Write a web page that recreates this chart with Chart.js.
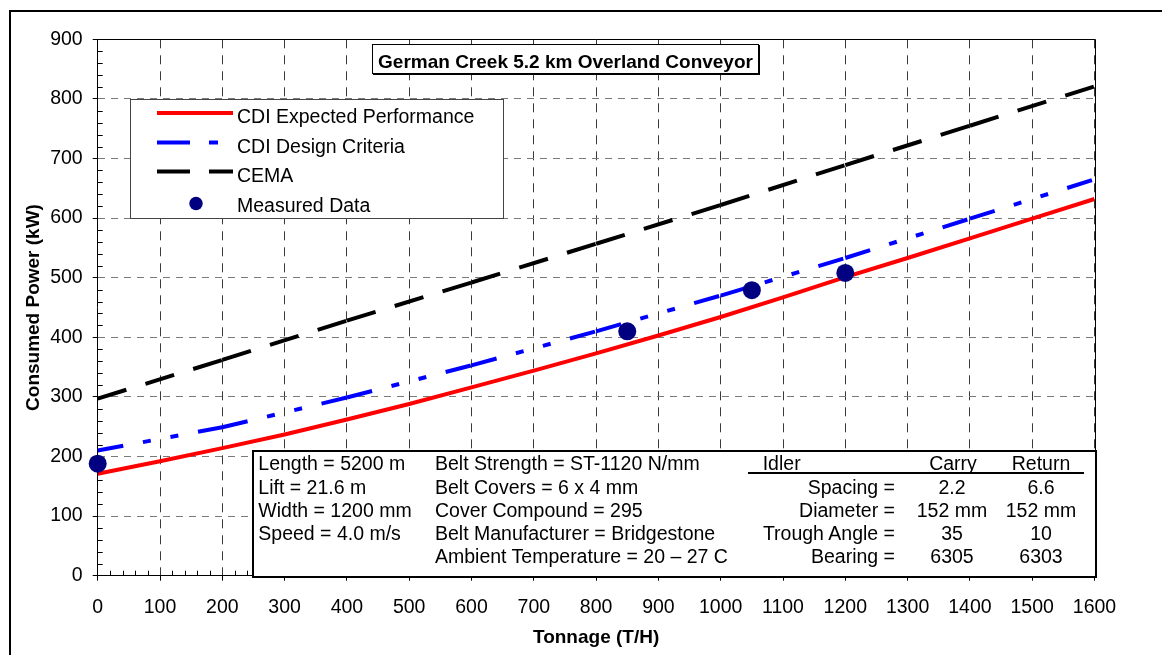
<!DOCTYPE html>
<html><head><meta charset="utf-8">
<script src="https://cdn.jsdelivr.net/npm/chart.js@4/dist/chart.umd.min.js"></script>
<style>
html,body{margin:0;padding:0;background:#fff;overflow:hidden;}
#wrap{position:relative;width:1162px;height:655px;overflow:hidden;font-family:"Liberation Sans",Arial,sans-serif;color:#000;}
#c{position:absolute;left:0;top:0;}
#frame{position:absolute;left:9px;top:10px;width:1300px;height:800px;border:2px solid #000;box-sizing:border-box;}
#overlay{position:absolute;left:0;top:0;width:1162px;height:655px;}
.t{position:absolute;white-space:pre;line-height:1;}
.box{position:absolute;background:#fff;box-sizing:border-box;}
</style></head><body>
<div id="wrap">
<div id="frame"></div>
<canvas id="c" width="1162" height="655"></canvas>
<div id="overlay"></div>
</div>
<script>
// ---- data ----
const expectedTonnage = [0,100,200,300,400,500,600,700,800,900,1000,1100,1200,1300,1400,1500,1600];
const expectedKW      = [171,192,214,237,262,288,316,344,373,403,434,467,501,533,566,599,632];
const designTonnage   = [0,200,400,600,800,1000,1200,1400,1600];
const designKW        = [210,249,299,353,410,470,533,599,665];
const cemaTonnage     = [0,200,400,600,800,1000,1200,1400,1600];
const cemaKW          = [297,362,428,492,557,622,689,755,821];
const measuredTonnage = [0,850,1050,1200];
const measuredKW      = [188,410,479,508];
const xTickValues = [0,100,200,300,400,500,600,700,800,900,1000,1100,1200,1300,1400,1500,1600];
const yTickValues = [0,100,200,300,400,500,600,700,800,900];
const seriesNames = ['CDI Expected Performance','CDI Design Criteria','CEMA','Measured Data'];
const chartTitle = 'German Creek 5.2 km Overland Conveyor';
const xTitle = 'Tonnage (T/H)';
const yTitle = 'Consumed Power (kW)';
const infoCol1 = ['Length = 5200 m','Lift = 21.6 m','Width = 1200 mm','Speed = 4.0 m/s'];
const infoCol2 = ['Belt Strength = ST-1120 N/mm','Belt Covers = 6 x 4 mm','Cover Compound = 295','Belt Manufacturer = Bridgestone','Ambient Temperature = 20 \u2013 27 C'];
const idlerHeader = ['Idler','Carry','Return'];
const idlerLabels = ['Spacing =','Diameter =','Trough Angle =','Bearing ='];
const idlerCarry  = ['2.2','152 mm','35','6305'];
const idlerReturn = ['6.6','152 mm','10','6303'];

// ---- styles ----
const FONT = '"Liberation Sans", Arial, sans-serif';
const FS = 19.5;
const pts = (xs, ys) => xs.map((x, i) => ({x: x, y: ys[i]}));
const designDashA = [26,20,8,20,8,20], designDashB = [26,20,8,20,8,20.0001];
const cemaDashA = [30,20], cemaDashB = [30,20.0001];

const colors = {expected:'#ff0000', design:'#0000ff', cema:'#000000', measured:'#000080'};

const minorPlugin = {
  id:'minorAndFrame',
  beforeDatasetsDraw(chart) {
    const ctx = chart.ctx, a = chart.chartArea;
    const xs = chart.scales.x, ys = chart.scales.y;
    ctx.save();
    ctx.strokeStyle = '#000'; ctx.lineWidth = 1;
    ctx.beginPath();
    for (let v = 20; v < 900; v += 20) {
      if (v % 100 === 0) continue;
      const p = Math.round(ys.getPixelForValue(v)) + 0.5;
      ctx.moveTo(a.left, p); ctx.lineTo(a.left + 5, p);
    }
    for (let v = 20; v < 1600; v += 20) {
      if (v % 100 === 0) continue;
      const p = Math.round(xs.getPixelForValue(v)) + 0.5;
      ctx.moveTo(p, a.bottom); ctx.lineTo(p, a.bottom - 5);
    }
    ctx.stroke();
    ctx.beginPath();
    const t = Math.round(a.top) + 0.5, r = Math.round(a.right) + 0.5;
    ctx.moveTo(a.left, t); ctx.lineTo(r, t); ctx.lineTo(r, a.bottom);
    ctx.stroke();
    ctx.restore();
  }
};

const datasets = [
  {label: seriesNames[0], data: pts(expectedTonnage, expectedKW), borderColor: colors.expected, borderWidth: 4, pointRadius: 0, order: 1, tension: 0},
  {label: seriesNames[1], data: pts(designTonnage, designKW), borderColor: colors.design, borderWidth: 4, pointRadius: 0, order: 2, tension: 0,
    segment: {borderDash: c => (c.p0DataIndex % 2 ? designDashB : designDashA)}},
  {label: seriesNames[2], data: pts(cemaTonnage, cemaKW), borderColor: colors.cema, borderWidth: 4, pointRadius: 0, order: 3, tension: 0,
    segment: {borderDash: c => (c.p0DataIndex % 2 ? cemaDashB : cemaDashA)}},
  {label: seriesNames[3], data: pts(measuredTonnage, measuredKW), showLine: false, pointRadius: 9, pointBackgroundColor: colors.measured,
    pointBorderColor: colors.measured, pointBorderWidth: 0, order: 0, clip: false}
];

const chart = new Chart(document.getElementById('c'), {
  type: 'line',
  data: {datasets: datasets},
  options: {
    responsive: false, animation: false, events: [],
    layout: {padding: {left: 0, top: 39.3, right: 67.5, bottom: 0}},
    plugins: {legend: {display: false}, tooltip: {enabled: false}, title: {display: false}},
    scales: {
      x: {
        type: 'linear', min: 0, max: 1600,
        afterFit: s => { s.height = 79.3; },
        afterBuildTicks: s => { s.ticks = xTickValues.map(v => ({value: v})); },
        ticks: {font: {family: FONT, size: FS}, color: '#000', padding: 15.3, maxRotation: 0, autoSkip: false, callback: v => String(v)},
        grid: {color: '#3a3a3a', lineWidth: 1, tickLength: 5, tickColor: '#000', tickBorderDash: []},
        border: {display: true, color: '#000', width: 1, dash: [9, 7]},
        title: {display: true, text: xTitle, color: '#000', font: {family: FONT, size: 19, weight: 'bold'}, padding: {top: 0, bottom: 6}}
      },
      y: {
        type: 'linear', min: 0, max: 900,
        afterFit: s => { s.width = 97.7; },
        afterBuildTicks: s => { s.ticks = yTickValues.map(v => ({value: v})); },
        ticks: {font: {family: FONT, size: FS}, color: '#000', padding: 10, autoSkip: false, callback: v => String(v)},
        grid: {color: '#7a7a7a', lineWidth: 1, tickLength: 5, tickColor: '#000', tickBorderDash: []},
        border: {display: true, color: '#000', width: 1, dash: [7, 6]},
        title: {display: true, text: yTitle, color: '#000', font: {family: FONT, size: 19, weight: 'bold'}, padding: {top: 22.6, bottom: 0}}
      }
    }
  },
  plugins: [minorPlugin]
});

// ---- overlay annotations (real text) ----
const ov = document.getElementById('overlay');
function txt(s, x, base, align, size, bold) {
  const d = document.createElement('div');
  d.className = 't'; d.textContent = s;
  d.style.fontSize = size + 'px';
  if (bold) d.style.fontWeight = 'bold';
  d.style.top = (base - 0.8465 * size) + 'px';
  if (align === 'left') { d.style.left = x + 'px'; }
  else if (align === 'right') { d.style.left = (x - 1000) + 'px'; d.style.width = '1000px'; d.style.textAlign = 'right'; }
  else { d.style.left = (x - 500) + 'px'; d.style.width = '1000px'; d.style.textAlign = 'center'; }
  ov.appendChild(d);
}
function box(l, t, w, h, css) {
  const d = document.createElement('div');
  d.className = 'box';
  d.style.left = l + 'px'; d.style.top = t + 'px'; d.style.width = w + 'px'; d.style.height = h + 'px';
  d.style.cssText += css;
  ov.appendChild(d);
}

// title box
box(372, 44, 387, 30, 'border:1px solid #000;box-shadow:1px 1px 0 #000;');
txt(chartTitle, 565.5, 68.3, 'center', 19, true);

// legend box
box(130, 99, 374, 120, 'border:1px solid #444;');
const svgNS = 'http://www.w3.org/2000/svg';
const svg = document.createElementNS(svgNS, 'svg');
svg.setAttribute('width', '1162'); svg.setAttribute('height', '655');
svg.style.position = 'absolute'; svg.style.left = '0'; svg.style.top = '0';
function sline(y, color, dash) {
  const l = document.createElementNS(svgNS, 'line');
  l.setAttribute('x1', 157); l.setAttribute('x2', 233); l.setAttribute('y1', y); l.setAttribute('y2', y);
  l.setAttribute('stroke', color); l.setAttribute('stroke-width', 4);
  if (dash) l.setAttribute('stroke-dasharray', dash);
  svg.appendChild(l);
}
sline(113, datasets[0].borderColor, null);
sline(142.5, datasets[1].borderColor, '33 19 9 40');
sline(171.5, datasets[2].borderColor, '33 19 40');
const dot = document.createElementNS(svgNS, 'circle');
dot.setAttribute('cx', 196); dot.setAttribute('cy', 203.5); dot.setAttribute('r', 6.7);
dot.setAttribute('fill', datasets[3].pointBackgroundColor);
svg.appendChild(dot);
ov.appendChild(svg);
const legendBases = [124, 153.4, 183, 212.3];
datasets.forEach((d, i) => txt(d.label, 237, legendBases[i], 'left', FS, false));

// info box
box(251.5, 450, 845, 127.5, 'border:2px solid #000;');
const rowBase = [471, 494.2, 517.4, 540.6, 563.8];
infoCol1.forEach((s, i) => txt(s, 258.3, rowBase[i], 'left', FS, false));
infoCol2.forEach((s, i) => txt(s, 435, rowBase[i], 'left', FS, false));
txt(idlerHeader[0], 762.7, rowBase[0], 'left', FS, false);
txt(idlerHeader[1], 953, rowBase[0], 'center', FS, false);
txt(idlerHeader[2], 1041, rowBase[0], 'center', FS, false);
box(748, 472, 336, 2, 'background:#000;');
idlerLabels.forEach((s, i) => txt(s, 895, rowBase[i + 1], 'right', FS, false));
idlerCarry.forEach((s, i) => txt(s, 952, rowBase[i + 1], 'center', FS, false));
idlerReturn.forEach((s, i) => txt(s, 1041, rowBase[i + 1], 'center', FS, false));
</script>
</body></html>
